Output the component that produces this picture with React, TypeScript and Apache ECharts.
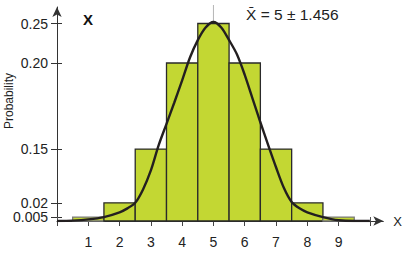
import React, { useEffect, useRef } from "react";
import * as echarts from "echarts";

// ---- data ----
const categories = [1, 2, 3, 4, 5, 6, 7, 8, 9];
const probabilities = [0.005, 0.023, 0.091, 0.2, 0.25, 0.2, 0.091, 0.023, 0.005];

const yTickValues = [0.005, 0.023, 0.091, 0.2, 0.25];
const yTickLabels = ["0.005", "0.02", "0.15", "0.20", "0.25"];

const xTickValues = [0, 1, 2, 3, 4, 5, 6, 7, 8, 9, 10];
const xLabelValues = [1, 2, 3, 4, 5, 6, 7, 8, 9];

const curveX = [
  0, 0.5, 1, 1.5, 2, 2.25, 2.5, 2.75, 3, 3.25, 3.5, 3.75, 4, 4.25, 4.5, 4.75, 5,
  5.25, 5.5, 5.75, 6, 6.25, 6.5, 6.75, 7, 7.25, 7.5, 7.75, 8, 8.5, 9, 9.5, 10,
];
const curveY = [
  0, 0.0005, 0.002, 0.005, 0.011, 0.016, 0.023, 0.04, 0.064, 0.096, 0.123, 0.15, 0.178, 0.207, 0.229, 0.245, 0.252,
  0.245, 0.229, 0.211, 0.185, 0.155, 0.125, 0.096, 0.068, 0.042, 0.024, 0.016, 0.011, 0.005, 0.001, 0, 0,
];

const meanValue = 5;
const meanText = "X\u0304 = 5 \u00b1 1.456";
const titleText = "X";
const xAxisName = "X";
const yAxisName = "Probability";

const X_MIN = 0;
const X_MAX = 10.43;
const Y_MIN = 0;
const Y_MAX = 0.2709;

const FONT = "'Liberation Sans', Arial, Helvetica, sans-serif";
const BAR_FILL = "#c3d733";
const AXIS_COLOR = "#333333";

export default function App() {
  const ref = useRef<HTMLDivElement>(null);

  useEffect(() => {
    document.body.style.margin = "0";
    if (!ref.current) return;
    const chart = echarts.init(ref.current, undefined, { renderer: "svg" });

    const findLabel = (v: number) => {
      let best = 0;
      let bestD = Infinity;
      yTickValues.forEach((t, i) => {
        const d = Math.abs(t - v);
        if (d < bestD) {
          bestD = d;
          best = i;
        }
      });
      return yTickLabels[best];
    };

    const option: any = {
      animation: false,
      grid: { left: 57, right: 18.3, top: 7, bottom: 32, containLabel: false },
      xAxis: [
        {
          type: "value",
          min: X_MIN,
          max: X_MAX,
          position: "bottom",
          name: xAxisName,
          nameLocation: "end",
          nameGap: 10,
          nameTextStyle: { color: "#222", fontSize: 13, fontFamily: FONT, verticalAlign: "middle" },
          axisLine: {
            show: true,
            symbol: ["none", "arrow"],
            symbolSize: [7, 10],
            lineStyle: { color: AXIS_COLOR, width: 1 },
          },
          axisTick: {
            show: true,
            length: 5,
            customValues: xTickValues,
            lineStyle: { color: "#444", width: 1 },
          },
          axisLabel: {
            show: true,
            customValues: xLabelValues,
            margin: 14,
            color: "#222",
            fontSize: 14,
            fontFamily: FONT,
            formatter: (v: number) => String(v),
          },
          splitLine: { show: false },
        },
        {
          type: "value",
          min: X_MIN,
          max: X_MAX,
          position: "bottom",
          axisLine: { show: false },
          axisTick: {
            show: true,
            inside: true,
            length: 4,
            customValues: xTickValues,
            lineStyle: { color: "#555", width: 1 },
          },
          axisLabel: { show: false },
          splitLine: { show: false },
        },
      ],
      yAxis: [
        {
          type: "value",
          min: Y_MIN,
          max: Y_MAX,
          position: "left",
          axisLine: {
            show: true,
            symbol: ["none", "arrow"],
            symbolSize: [7, 10],
            lineStyle: { color: AXIS_COLOR, width: 1 },
          },
          axisTick: {
            show: true,
            length: 6,
            customValues: yTickValues,
            lineStyle: { color: "#333", width: 1 },
          },
          axisLabel: {
            show: true,
            customValues: yTickValues,
            margin: 9,
            color: "#222",
            fontSize: 14,
            lineHeight: 12,
            fontFamily: FONT,
            formatter: (v: number) => findLabel(v),
          },
          splitLine: { show: false },
        },
        {
          type: "value",
          min: Y_MIN,
          max: Y_MAX,
          position: "left",
          axisLine: { show: false },
          axisTick: {
            show: true,
            inside: true,
            length: 5,
            customValues: yTickValues,
            lineStyle: { color: "#333", width: 1 },
          },
          axisLabel: { show: false },
          splitLine: { show: false },
        },
      ],
      series: [
        {
          type: "custom",
          name: "mean",
          xAxisIndex: 0,
          yAxisIndex: 0,
          z: 1,
          silent: true,
          data: [[meanValue]],
          encode: { x: 0 },
          renderItem: (params: any, api: any) => {
            const top = api.coord([api.value(0), Y_MAX]);
            const bottom = api.coord([api.value(0), 0]);
            return {
              type: "line",
              shape: { x1: top[0], y1: top[1] - 2, x2: bottom[0], y2: bottom[1] },
              style: { stroke: "#b5b5b5", lineWidth: 1 },
            };
          },
        },
        {
          type: "custom",
          name: "bars",
          xAxisIndex: 0,
          yAxisIndex: 0,
          z: 2,
          data: categories.map((c, i) => [c, probabilities[i]]),
          encode: { x: 0, y: 1 },
          renderItem: (params: any, api: any) => {
            const x = api.value(0);
            const y = api.value(1);
            const p0 = api.coord([x - 0.5, y]);
            const p1 = api.coord([x + 0.5, 0]);
            return {
              type: "rect",
              shape: { x: p0[0], y: p0[1], width: p1[0] - p0[0], height: p1[1] - p0[1] },
              style: {
                fill: BAR_FILL,
                stroke: y < 0.01 ? "#7a7a7a" : "#2a2a2a",
                lineWidth: 1.3,
              },
            };
          },
        },
        {
          type: "line",
          name: "curve",
          xAxisIndex: 0,
          yAxisIndex: 0,
          z: 3,
          smooth: 0.3,
          showSymbol: false,
          symbol: "none",
          data: curveX.map((x, i) => [x, curveY[i]]),
          lineStyle: { color: "#231f20", width: 2.4 },
        },
      ],
      graphic: [
        {
          type: "text",
          x: 9,
          y: 101,
          rotation: Math.PI / 2,
          style: {
            text: yAxisName,
            fill: "#222",
            font: `12px ${FONT}`,
            textAlign: "center",
            textVerticalAlign: "middle",
          },
        },
        {
          type: "text",
          x: 88,
          y: 19,
          style: {
            text: titleText,
            fill: "#111",
            font: `bold 15px ${FONT}`,
            textAlign: "center",
            textVerticalAlign: "middle",
          },
        },
        {
          type: "text",
          x: 246,
          y: 14,
          style: {
            text: meanText,
            fill: "#222",
            font: `15.5px ${FONT}`,
            textAlign: "left",
            textVerticalAlign: "middle",
          },
        },
      ],
    };

    chart.setOption(option);
    return () => chart.dispose();
  }, []);

  return <div ref={ref} style={{ width: 405, height: 253 }} />;
}
